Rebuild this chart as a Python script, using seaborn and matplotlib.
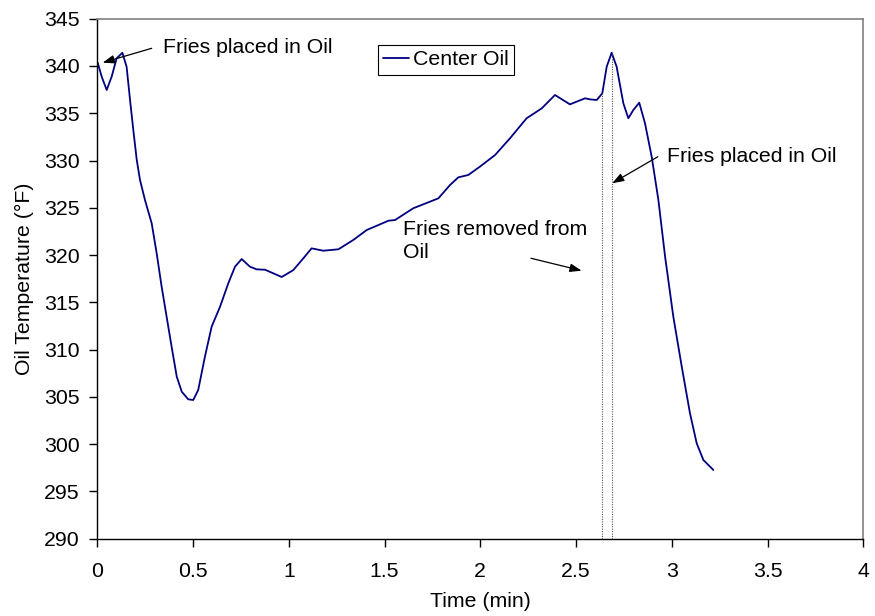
import numpy as np
import pandas as pd
import matplotlib
matplotlib.use("Agg")
import matplotlib.pyplot as plt
import seaborn as sns

# ---- data ----
time_min = [0.002, 0.023, 0.049, 0.075, 0.101, 0.131, 0.153, 0.171, 0.188, 0.206,
            0.223, 0.249, 0.284, 0.310, 0.336, 0.362, 0.388, 0.415, 0.441, 0.475,
            0.501, 0.527, 0.562, 0.597, 0.641, 0.684, 0.719, 0.754, 0.797, 0.832,
            0.876, 0.963, 1.024, 1.076, 1.119, 1.180, 1.259, 1.337, 1.407, 1.520,
            1.555, 1.650, 1.781, 1.842, 1.885, 1.937, 1.998, 2.077, 2.155, 2.242,
            2.321, 2.390, 2.468, 2.547, 2.573, 2.608, 2.637, 2.660, 2.686, 2.712,
            2.747, 2.773, 2.799, 2.830, 2.860, 2.895, 2.930, 2.965, 3.008, 3.052,
            3.095, 3.130, 3.165, 3.217]
center_oil_f = [340.35, 338.87, 337.46, 338.87, 340.81, 341.40, 339.92, 336.40, 333.23, 330.06,
                327.94, 325.82, 323.36, 320.19, 316.65, 313.48, 310.31, 307.13, 305.55, 304.74,
                304.67, 305.73, 309.25, 312.42, 314.54, 317.01, 318.77, 319.58, 318.77, 318.49,
                318.45, 317.68, 318.42, 319.66, 320.71, 320.46, 320.61, 321.60, 322.65, 323.63,
                323.71, 324.95, 326.00, 327.41, 328.22, 328.47, 329.35, 330.58, 332.35, 334.47,
                335.52, 336.93, 335.94, 336.58, 336.47, 336.40, 337.10, 339.92, 341.40, 339.92,
                336.05, 334.47, 335.34, 336.12, 333.94, 330.40, 325.82, 319.83, 313.48, 308.19,
                303.26, 300.09, 298.32, 297.27]
series_name = "Center Oil"
event_index = [56, 58]  # fries removed, fries placed (drop lines)
x_ticks = [0, 0.5, 1, 1.5, 2, 2.5, 3, 3.5, 4]
x_tick_labels = ["0", "0.5", "1", "1.5", "2", "2.5", "3", "3.5", "4"]
y_ticks = list(range(290, 346, 5))

sns.set_style("ticks")
plt.rcParams["font.family"] = ["Liberation Sans", "DejaVu Sans"]
plt.rcParams["text.color"] = "black"
plt.rcParams["axes.labelcolor"] = "black"
FS = 15.3

fig = plt.figure(figsize=(8.75, 6.16), dpi=100)
fig.patch.set_facecolor("white")
L, R, T, B = 97.3, 863.3, 18.7, 538.7
ax = fig.add_axes([L / 875, 1 - B / 616, (R - L) / 875, (B - T) / 616])

df = pd.DataFrame({"Time (min)": time_min, "Oil Temperature (°F)": center_oil_f})
sns.lineplot(data=df, x="Time (min)", y="Oil Temperature (°F)", sort=False,
             color="#000080", linewidth=1.3, label=series_name, ax=ax)

# drop lines at the events
ev_t = [time_min[i] for i in event_index]
ev_y = [center_oil_f[i] for i in event_index]
ax.vlines(ev_t, 290, ev_y, colors="#555555", linestyles=(0, (1, 1.2)), linewidth=0.8)

ax.set_xlim(0, 4)
ax.set_ylim(290, 345)
ax.set_xticks(x_ticks)
ax.set_xticklabels(x_tick_labels)
ax.set_yticks(y_ticks)
ax.tick_params(axis="both", direction="out", length=6, width=1, labelsize=FS,
               color="black", labelcolor="black")
ax.tick_params(axis="y", pad=6.5)
ax.tick_params(axis="x", pad=11)

for s in ["left", "bottom"]:
    ax.spines[s].set_color("black")
    ax.spines[s].set_linewidth(1.0)
for s in ["top", "right"]:
    ax.spines[s].set_visible(True)
    ax.spines[s].set_color("#808080")
    ax.spines[s].set_linewidth(1.2)

ax.set_xlabel("Time (min)", fontsize=FS, color="black")
ax.set_ylabel("Oil Temperature (°F)", fontsize=FS, color="black")
ax.xaxis.set_label_coords(0.5, -0.1025)
ax.yaxis.set_label_coords(-0.083, 0.5)

leg = ax.legend(loc="upper left", bbox_to_anchor=(0.3665, 0.9494), fontsize=FS,
                frameon=True, fancybox=False, framealpha=1, edgecolor="black",
                borderpad=0.25, handlelength=1.2, handletextpad=0.2, borderaxespad=0)
leg.get_frame().set_linewidth(0.8)
for t in leg.get_texts():
    t.set_color("black")

arrow_style = dict(arrowstyle="-|>,head_length=0.5,head_width=0.18", color="black",
                   lw=0.9, shrinkA=0, shrinkB=0, mutation_scale=14)
ax.text(0.343, 342.0, "Fries placed in Oil", ha="left", va="center", fontsize=FS, color="black")
ax.annotate("", xy=(0.028, 340.35), xytext=(0.284, 341.87), arrowprops=arrow_style)

ax.text(1.598, 321.5, "Fries removed from\nOil", ha="left", va="center",
        fontsize=FS, linespacing=1.3, color="black")
ax.annotate("", xy=(2.529, 318.35), xytext=(2.265, 319.66), arrowprops=arrow_style)

ax.text(2.977, 330.4, "Fries placed in Oil", ha="left", va="center", fontsize=FS, color="black")
ax.annotate("", xy=(2.689, 327.6), xytext=(2.927, 330.4), arrowprops=arrow_style)

fig.savefig("out.png", dpi=100, facecolor="white")
